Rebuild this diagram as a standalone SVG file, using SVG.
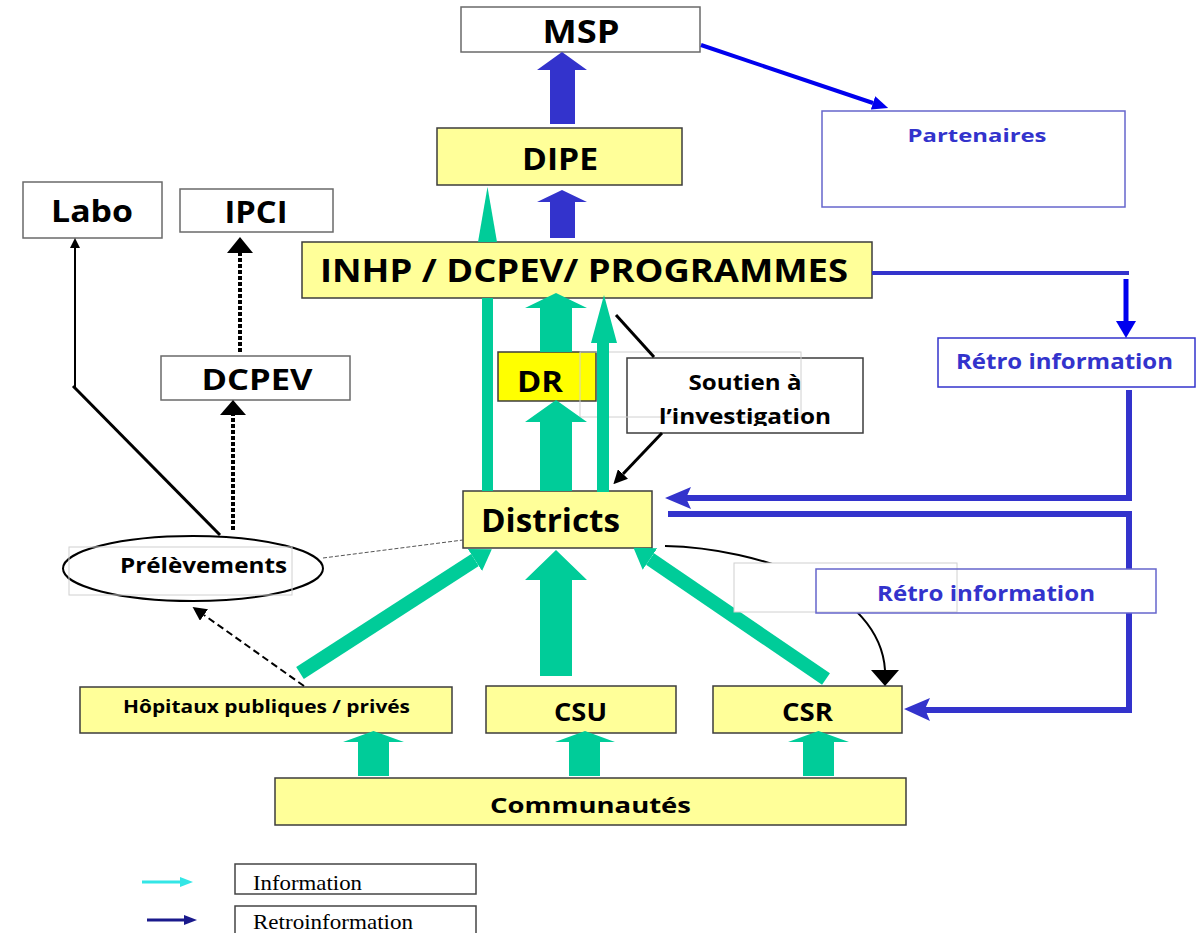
<svg xmlns="http://www.w3.org/2000/svg" width="1203" height="933" viewBox="0 0 1203 933">
<style>
.t{font-family:"Open Sans","Liberation Sans",sans-serif;font-weight:700;fill:#000;text-anchor:middle}
.b{fill:#3333cc}
.y{fill:#ffff99;stroke:#3c3c3c;stroke-width:1.5}
.w{fill:#fff;stroke:#6a6a6a;stroke-width:1.5}
.faint{fill:none;stroke:#d0d0d0;stroke-width:1}
.g{fill:#00cc99}
.bl{fill:none;stroke:#3333cc;stroke-width:6}
.k{fill:#000}
.leg{font-family:"Liberation Serif","Times New Roman",serif;font-size:21px;fill:#000}
</style>
<defs>
<marker id="hk" markerWidth="10" markerHeight="10" refX="0" refY="5" orient="auto" markerUnits="userSpaceOnUse" viewBox="0 0 10 10"><path d="M0,0 L10,5 L0,10 z" fill="#000"/></marker>
<marker id="hk2" markerWidth="14" markerHeight="14" refX="0" refY="7" orient="auto" markerUnits="userSpaceOnUse" viewBox="0 0 14 14"><path d="M0,0 L14,7 L0,14 z" fill="#000"/></marker>
<marker id="hg" markerWidth="20" markerHeight="26" refX="0" refY="13" orient="auto" markerUnits="userSpaceOnUse" viewBox="0 0 20 26"><path d="M0,0 L20,13 L0,26 z" fill="#00cc99"/></marker>
<marker id="hb" markerWidth="16" markerHeight="14" refX="0" refY="7" orient="auto" markerUnits="userSpaceOnUse" viewBox="0 0 16 14"><path d="M0,0 L16,7 L0,14 z" fill="#0000ee"/></marker>
<clipPath id="clipS"><rect x="627" y="358" width="236" height="68"/></clipPath>
<clipPath id="clipL"><rect x="235" y="864" width="241" height="26"/></clipPath>
</defs>

<g id="nodes">
<g id="msp"><rect class="w" x="461" y="7" width="239" height="45"/><text class="t" x="581" y="43" font-size="32" textLength="77" lengthAdjust="spacingAndGlyphs">MSP</text></g>
<g id="dipe"><rect class="y" x="437" y="128" width="245" height="57"/><text class="t" x="560" y="170" font-size="31" textLength="76" lengthAdjust="spacingAndGlyphs">DIPE</text></g>
<g id="partenaires"><rect x="822" y="111" width="303" height="96" fill="#fff" stroke="#6666cc" stroke-width="1.5"/><text class="t b" x="977" y="142" font-size="18" textLength="139" lengthAdjust="spacingAndGlyphs">Partenaires</text></g>
<g id="labo"><rect class="w" x="23" y="182" width="139" height="56"/><text class="t" x="92" y="222" font-size="30" textLength="82" lengthAdjust="spacingAndGlyphs">Labo</text></g>
<g id="ipci"><rect class="w" x="180" y="189" width="153" height="43"/><text class="t" x="256" y="223" font-size="30" textLength="63" lengthAdjust="spacingAndGlyphs">IPCI</text></g>
<g id="inhp"><rect class="y" x="302" y="242" width="570" height="56"/><text class="t" x="584" y="282" font-size="33" textLength="528" lengthAdjust="spacingAndGlyphs">INHP / DCPEV/ PROGRAMMES</text></g>
<g id="dcpev"><rect class="w" x="161" y="356" width="189" height="44"/><text class="t" x="257" y="390" font-size="28" textLength="111" lengthAdjust="spacingAndGlyphs">DCPEV</text></g>
<g id="dr"><rect x="498" y="352" width="98" height="49" fill="#ffff00" stroke="#3c3c3c" stroke-width="1.5"/><text class="t" x="540" y="392" font-size="28" textLength="46" lengthAdjust="spacingAndGlyphs">DR</text></g>
<g id="soutien"><rect x="627" y="358" width="236" height="75" fill="#fff" stroke="#3c3c3c" stroke-width="1.5"/><rect class="faint" x="580" y="352" width="221" height="65"/><g clip-path="url(#clipS)"><text class="t" x="745" y="390" font-size="21" textLength="113" lengthAdjust="spacingAndGlyphs">Soutien à</text><text class="t" x="745" y="424" font-size="21" textLength="172" lengthAdjust="spacingAndGlyphs">l’investigation</text></g></g>
<g id="retro1"><rect x="938" y="338" width="257" height="49" fill="#fff" stroke="#3333cc" stroke-width="1.5"/><text class="t b" x="1064.5" y="369" font-size="22" textLength="217" lengthAdjust="spacingAndGlyphs">Rétro information</text></g>
<g id="districts"><rect class="y" x="463" y="491" width="189" height="57"/><text class="t" x="550.5" y="532" font-size="32" textLength="139" lengthAdjust="spacingAndGlyphs">Districts</text></g>
<g id="prelevements"><ellipse cx="193" cy="568.5" rx="130" ry="32.5" fill="#fff" stroke="#000" stroke-width="2"/><rect class="faint" x="69" y="547" width="223" height="48"/><text class="t" x="203.5" y="573" font-size="21" textLength="167" lengthAdjust="spacingAndGlyphs">Prélèvements</text></g>
<g id="hopitaux"><rect class="y" x="80" y="687" width="372" height="46"/><text class="t" x="266.5" y="713" font-size="17" textLength="287" lengthAdjust="spacingAndGlyphs">Hôpitaux publiques / privés</text></g>
<g id="csu"><rect class="y" x="486" y="686" width="190" height="47"/><text class="t" x="580.5" y="721" font-size="25" textLength="53" lengthAdjust="spacingAndGlyphs">CSU</text></g>
<g id="csr"><rect class="y" x="713" y="686" width="189" height="47"/><text class="t" x="807.5" y="721" font-size="25" textLength="51" lengthAdjust="spacingAndGlyphs">CSR</text></g>
<g id="communautes"><rect class="y" x="275" y="778" width="631" height="47"/><text class="t" x="590.5" y="813" font-size="22" textLength="201" lengthAdjust="spacingAndGlyphs">Communautés</text></g>
<g id="legend-info"><rect x="235" y="864" width="241" height="30" fill="#fff" stroke="#444" stroke-width="1.5"/><g clip-path="url(#clipL)"><text class="leg" x="253" y="890" textLength="109" lengthAdjust="spacingAndGlyphs">Information</text></g></g>
<g id="legend-retro"><rect x="235" y="906" width="241" height="40" fill="#fff" stroke="#444" stroke-width="1.5"/><text class="leg" x="253" y="929" textLength="160" lengthAdjust="spacingAndGlyphs">Retroinformation</text></g>
</g>

<g id="connectors">
<polygon class="b" points="550,124 550,70 537,70 562,52 587,70 575,70 575,124"/>
<polygon class="b" points="550,238 550,202 537,202 562,190 587,202 575,202 575,238"/>
<line x1="701" y1="45" x2="873" y2="103" stroke="#0000ee" stroke-width="4" marker-end="url(#hb)"/>
<rect class="g" x="482" y="298" width="11" height="193"/>
<polygon class="g" points="478,242 497,242 487.5,187"/>
<polygon class="g" points="540,352 540,308 525,308 556,293 587,308 572,308 572,352"/>
<polygon class="g" points="540,491 540,422 525,422 556,400 587,422 572,422 572,491"/>
<polygon class="g" points="597,492 597,343 591,343 604,295 617,343 609,343 609,492"/>
<line x1="616" y1="315" x2="654" y2="357" stroke="#000" stroke-width="3"/>
<line x1="662" y1="433" x2="623" y2="474" stroke="#000" stroke-width="3" marker-end="url(#hk2)"/>
<line x1="872" y1="273" x2="1129" y2="273" stroke="#3333cc" stroke-width="4"/>
<line x1="1126" y1="279" x2="1126" y2="323" stroke="#0000ee" stroke-width="5"/>
<polygon points="1116,321 1136,321 1126,338" fill="#0000ee"/>
<polyline class="bl" points="1129,390 1129,498 686,498"/>
<polygon class="b" points="665,498 691,487 686,498 691,509"/>
<polyline class="bl" points="668,514 1129,514 1129,710 920,710"/>
<polygon class="b" points="904,709 930,698 925,709 930,721"/>
<line x1="300" y1="673" x2="475" y2="560" stroke="#00cc99" stroke-width="14" marker-end="url(#hg)"/>
<line x1="826" y1="679" x2="650" y2="559" stroke="#00cc99" stroke-width="14" marker-end="url(#hg)"/>
<polygon class="g" points="540,676 540,580 525,580 556,550 587,580 572,580 572,676"/>
<polygon class="g" points="358,776 358,742 343,742 373.5,731 404,742 389,742 389,776"/>
<polygon class="g" points="569,776 569,742 555,742 585,731 615,742 600,742 600,776"/>
<polygon class="g" points="803,776 803,742 788,742 818.5,731 849,742 834,742 834,776"/>
<path d="M665,546 C760,548 880,590 885,670" fill="none" stroke="#000" stroke-width="2"/>
<polygon class="k" points="871,670 899,670 885,686"/>
<line x1="75" y1="387" x2="75" y2="248" stroke="#000" stroke-width="2" marker-end="url(#hk)"/>
<line x1="73" y1="386" x2="220" y2="535" stroke="#000" stroke-width="3"/>
<line x1="240" y1="352" x2="240" y2="253" stroke="#000" stroke-width="4" stroke-dasharray="4,2"/>
<polygon class="k" points="227,253 253,253 240,237"/>
<line x1="233" y1="530" x2="233" y2="415" stroke="#000" stroke-width="4" stroke-dasharray="4,2"/>
<polygon class="k" points="220,415 246,415 233,400"/>
<line x1="304" y1="686" x2="204" y2="615" stroke="#000" stroke-width="2" stroke-dasharray="7,4" marker-end="url(#hk2)"/>
<line x1="323" y1="558" x2="463" y2="540" stroke="#555" stroke-width="1" stroke-dasharray="4,2"/>
<line x1="142" y1="882" x2="181" y2="882" stroke="#33e6e6" stroke-width="3"/>
<polygon points="180,877 193,882 180,887" fill="#33e6e6"/>
<line x1="147" y1="920" x2="185" y2="920" stroke="#1a1a8c" stroke-width="3"/>
<polygon points="184,915 197,920 184,925" fill="#1a1a8c"/>
</g>

<g id="retro2">
<rect x="734" y="563" width="223" height="49" fill="#fff"/>
<rect x="816" y="569" width="340" height="44" fill="#fff"/>
<rect class="faint" x="734" y="563" width="223" height="49"/>
<rect x="816" y="569" width="340" height="44" fill="none" stroke="#6666cc" stroke-width="1.5"/>
<text class="t b" x="986" y="601" font-size="22" textLength="218" lengthAdjust="spacingAndGlyphs">Rétro information</text>
</g>
</svg>
